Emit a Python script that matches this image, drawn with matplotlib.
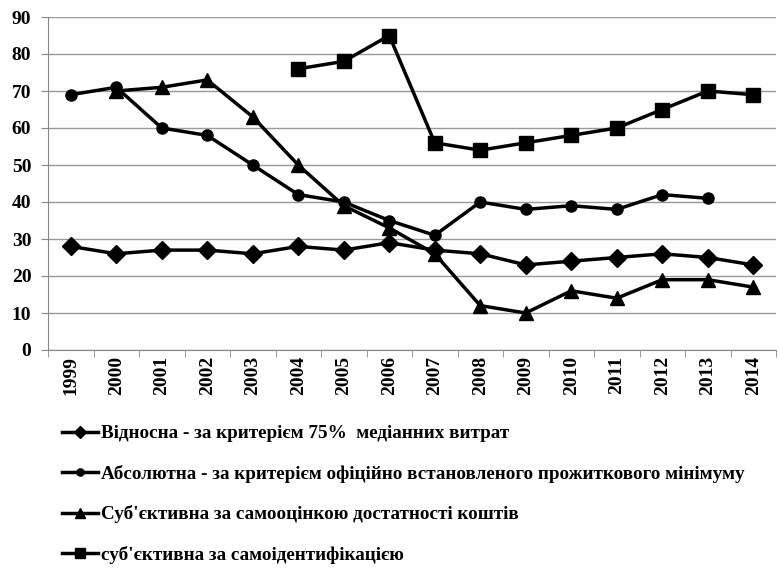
import numpy as np
import matplotlib.pyplot as plt
from matplotlib.lines import Line2D

years = [str(y) for y in range(1999, 2015)]
relative = [28, 26, 27, 27, 26, 28, 27, 29, 27, 26, 23, 24, 25, 26, 25, 23]
absolute = [69, 71, 60, 58, 50, 42, 40, 35, 31, 40, 38, 39, 38, 42, 41, np.nan]
subj_funds = [np.nan, 70, 71, 73, 63, 50, 39, 33, 26, 12, 10, 16, 14, 19, 19, 17]
subj_ident = [np.nan] * 5 + [76, 78, 85, 56, 54, 56, 58, 60, 65, 70, 69]

labels = [
    "Відносна - за критерієм 75%  медіанних витрат",
    "Абсолютна - за критерієм офіційно встановленого прожиткового мінімуму",
    "Суб'єктивна за самооцінкою достатності коштів",
    "суб'єктивна за самоідентифікацією",
]

plt.rcParams['font.family'] = ['Liberation Serif', 'DejaVu Serif']
plt.rcParams['font.weight'] = 'bold'

fig = plt.figure(figsize=(7.79, 5.78), dpi=100)
ax = fig.add_axes([48 / 779, 1 - 350 / 578, 728 / 779, 333 / 578])

x = np.arange(len(years))
series = [(relative, 'D', 9), (absolute, 'o', 8), (subj_funds, '^', 10), (subj_ident, 's', 10)]
handles = []
for (vals, mk, ms), lab in zip(series, labels):
    ax.plot(x, vals, color='black', lw=2.5, marker=mk, markersize=ms)
    # legend shows smaller markers than the plot
    handles.append(Line2D([], [], color='black', lw=2.5, marker=mk,
                          markersize=ms * 0.65, label=lab))

ax.set_xlim(-0.5, len(years) - 0.5)
ax.set_ylim(0, 90)
ax.set_yticks(range(0, 91, 10))
ax.set_xticks(x)
ax.set_xticklabels(years, rotation=90, fontsize=14, fontweight='bold')
ax.tick_params(axis='x', length=0, pad=4)
ax.set_xticks(np.arange(-0.5, len(years)), minor=True)
ax.tick_params(axis='x', which='minor', length=5, color='#888888')
ax.tick_params(axis='y', labelsize=14, length=5, color='#888888', pad=7)
for t in ax.get_yticklabels():
    t.set_fontweight('bold')

ax.grid(axis='y', color='#999999', lw=1)
ax.set_axisbelow(True)
for s in ['top', 'right']:
    ax.spines[s].set_visible(False)
for s in ['left', 'bottom']:
    ax.spines[s].set_color('#888888')

fig.legend(handles=handles, loc='upper left', bbox_to_anchor=(62 / 779, 1 - 425 / 578),
           frameon=False, ncol=1, handlelength=1.9, handletextpad=0.15,
           borderpad=0, borderaxespad=0, labelspacing=1.17,
           prop={'weight': 'bold', 'size': 13.8})

fig.savefig('out.png', dpi=100)
